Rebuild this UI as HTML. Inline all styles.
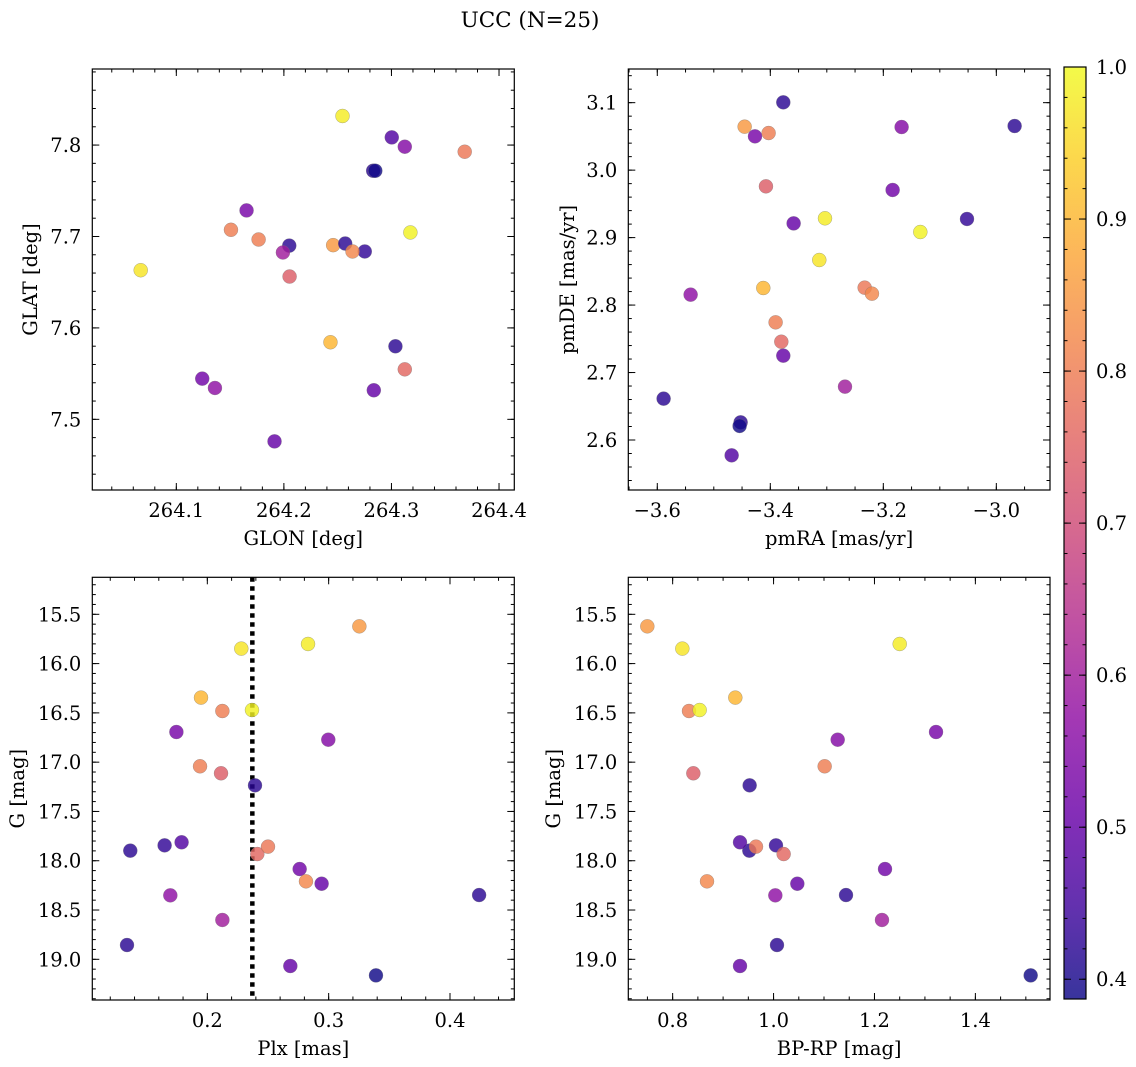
<!DOCTYPE html>
<html><head><meta charset="utf-8"><style>
html,body{margin:0;padding:0;background:#fff;}
svg{display:block;font-family:"DejaVu Serif","Liberation Serif",serif;}
</style></head><body>
<svg id="fig" width="1136" height="1067" viewBox="0 0 1136 1067" xmlns="http://www.w3.org/2000/svg">
<text x="530" y="27" font-size="21.5" text-anchor="middle">UCC (N=25)</text>
</svg>
<script>
// star data (25 members)
const glon = [264.2458,264.0669,264.2545,264.2433,264.1508,264.3176,264.1653,264.3124,264.1765,264.2053,264.205,264.257,264.2752,264.3003,264.3124,264.3681,264.1241,264.2638,264.2836,264.1359,264.3037,264.1991,264.283,264.1913,264.285];
const glat = [7.6905,7.6631,7.8318,7.5843,7.7073,7.7044,7.7285,7.7982,7.6967,7.6562,7.690,7.6923,7.6836,7.8084,7.5547,7.7927,7.5445,7.6836,7.5318,7.5343,7.5799,7.6825,7.7719,7.4759,7.7719];
const pmra = [-3.4454,-3.3133,-3.3032,-3.4124,-3.4030,-3.1345,-3.4271,-3.1676,-3.3906,-3.4077,-3.3770,-2.9676,-3.0519,-3.4684,-3.3805,-3.2330,-3.1835,-3.2201,-3.3770,-3.5410,-3.5888,-3.2678,-3.4525,-3.3587,-3.4543];
const pmde = [3.0644,2.8668,2.9286,2.8253,3.0550,2.9083,3.0501,3.0639,2.7744,2.9760,3.1005,3.0654,2.9276,2.5773,2.7457,2.8258,2.9706,2.8169,2.7250,2.8154,2.6613,2.6791,2.6262,2.9211,2.6208];
const plx = [0.3253,0.2280,0.2830,0.1948,0.2124,0.2368,0.1745,0.2997,0.1940,0.2113,0.2393,0.1365,0.1648,0.1788,0.2412,0.2500,0.2761,0.2813,0.2942,0.1695,0.4240,0.2124,0.1338,0.2684,0.3390];
const gmag = [15.622,15.848,15.801,16.345,16.481,16.471,16.694,16.772,17.042,17.113,17.235,17.898,17.844,17.813,17.932,17.857,18.084,18.209,18.233,18.351,18.348,18.601,18.855,19.068,19.163];
const bprp = [0.7498,0.8192,1.2500,0.9242,0.8324,0.8535,1.3220,1.1271,1.1013,0.8410,0.9526,0.9520,1.0048,0.9335,1.0200,0.9652,1.2209,0.8681,1.0471,1.0035,1.1436,1.2149,1.0068,0.9335,1.5096];
const prob = [0.85,0.97,0.98,0.90,0.80,0.99,0.53,0.55,0.80,0.74,0.42,0.42,0.43,0.47,0.76,0.79,0.52,0.82,0.50,0.57,0.42,0.60,0.42,0.50,0.39];
const plxMedian = [0.2371];
const cbTicks = [0.4,0.5,0.6,0.7,0.8,0.9,1.0];

const NS="http://www.w3.org/2000/svg";
const svg=document.getElementById('fig');
const FS=19.5;
function mk(tag,attrs,parent){const e=document.createElementNS(NS,tag);for(const k in attrs)e.setAttribute(k,attrs[k]);(parent||svg).appendChild(e);return e;}

const plasma=[[13,8,135],[65,4,157],[106,0,168],[143,13,164],[177,42,144],[204,71,120],[225,100,98],[242,132,75],[252,166,54],[252,206,37],[240,249,33]];
const vmin=0.387,vmax=1.0;
function cmap(v){let t=Math.max(0,Math.min(1,(v-vmin)/(vmax-vmin)))*10;const i=Math.min(9,Math.floor(t));const f=t-i;const a=plasma[i],b=plasma[i+1];return 'rgb('+a.map((c,k)=>Math.round(c+(b[k]-c)*f)).join(',')+')';}
function fmt(v,d){const s=Math.abs(v).toFixed(d);return (v<-1e-9?'\u2212':'')+s;}

function panel(cfg){
  const g=mk('g',{});
  
  
  const sx=v=>cfg.px0+(v-cfg.x0)/(cfg.x1-cfg.x0)*(cfg.px1-cfg.px0);
  const sy=v=>cfg.py0+(v-cfg.y0)/(cfg.y1-cfg.y0)*(cfg.py1-cfg.py0);
  const L=cfg.px0,R=cfg.px1,T=Math.min(cfg.py0,cfg.py1),B=Math.max(cfg.py0,cfg.py1);
  const tg=mk('g',{stroke:'#000','stroke-width':1},g);
  
  
  const lo=Math.min(cfg.x0,cfg.x1),hi=Math.max(cfg.x0,cfg.x1);
  for(let v=Math.ceil(lo/cfg.xmin-1e-6)*cfg.xmin;v<=hi+1e-9;v+=cfg.xmin){const x=sx(v);mk('line',{x1:x,x2:x,y1:B,y2:B-3.5},tg);mk('line',{x1:x,x2:x,y1:T,y2:T+3.5},tg);}
  const ylo=Math.min(cfg.y0,cfg.y1),yhi=Math.max(cfg.y0,cfg.y1);
  for(let v=Math.ceil(ylo/cfg.ymin-1e-6)*cfg.ymin;v<=yhi+1e-9;v+=cfg.ymin){const y=sy(v);mk('line',{x1:L,x2:L+3.5,y1:y,y2:y},tg);mk('line',{x1:R,x2:R-3.5,y1:y,y2:y},tg);}
  cfg.xt.forEach(v=>{const x=sx(v);mk('line',{x1:x,x2:x,y1:B,y2:B-7},tg);mk('line',{x1:x,x2:x,y1:T,y2:T+7},tg);
    const t=mk('text',{x:x,y:B+27,'font-size':FS,'text-anchor':'middle'},g);t.textContent=fmt(v,cfg.xd);
    });
  cfg.yt.forEach(v=>{const y=sy(v);mk('line',{x1:L,x2:L+7,y1:y,y2:y},tg);mk('line',{x1:R,x2:R-7,y1:y,y2:y},tg);
    const t=mk('text',{x:L-11,y:y+7,'font-size':FS,'text-anchor':'end'},g);t.textContent=fmt(v,cfg.yd);
    });
  if(cfg.vline){cfg.vline.forEach(v=>{const l=mk('line',{x1:sx(v),x2:sx(v),y1:T,y2:B,stroke:'#000','stroke-width':4.5,'stroke-dasharray':'4.5 4.5'},g);
    });}
  cfg.xs.forEach((xv,i)=>{const c=mk('circle',{cx:sx(xv),cy:sy(cfg.ys[i]),r:7,fill:cmap(prob[i]),'fill-opacity':0.82,stroke:'#777','stroke-opacity':0.6,'stroke-width':0.5},g);
    
    });
  const fr=mk('rect',{x:L,y:T,width:R-L,height:B-T,fill:'none',stroke:'#000','stroke-width':1.2},g);
  
  const xl=mk('text',{x:(L+R)/2,y:B+55,'font-size':FS,'text-anchor':'middle'},g);xl.textContent=cfg.xlabel;
  
  const yl=mk('text',{x:0,y:0,'font-size':FS,'text-anchor':'middle',transform:'translate('+cfg.ylx+','+((T+B)/2)+') rotate(-90)'},g);yl.textContent=cfg.ylabel;
  
}

panel({name:'glon-glat-panel',px0:92.3,px1:514.3,py0:490,py1:69,x0:264.0219,x1:264.4142,y0:7.4227,y1:7.8832,
  xt:[264.1,264.2,264.3,264.4],xd:1,xmin:0.02,yt:[7.5,7.6,7.7,7.8],yd:1,ymin:0.02,xs:glon,ys:glat,xlabel:'GLON [deg]',ylabel:'GLAT [deg]',ylx:37});
panel({name:'pm-panel',px0:628.3,px1:1050,py0:490,py1:69,x0:-3.6513,x1:-2.905,y0:2.5259,y1:3.1499,
  xt:[-3.6,-3.4,-3.2,-3.0],xd:1,xmin:0.05,yt:[2.6,2.7,2.8,2.9,3.0,3.1],yd:1,ymin:0.02,xs:pmra,ys:pmde,xlabel:'pmRA [mas/yr]',ylabel:'pmDE [mas/yr]',ylx:574});
panel({name:'plx-g-panel',px0:92.3,px1:514.3,py0:577.3,py1:1000,x0:0.1052,x1:0.4530,y0:15.1246,y1:19.4128,
  xt:[0.2,0.3,0.4],xd:1,xmin:0.02,yt:[15.5,16,16.5,17,17.5,18,18.5,19],yd:1,ymin:0.1,xs:plx,ys:gmag,xlabel:'Plx [mas]',ylabel:'G [mag]',ylx:24,vline:plxMedian});
panel({name:'cmd-panel',px0:628.3,px1:1050,py0:577.3,py1:1000,x0:0.7121,x1:1.5479,y0:15.1246,y1:19.4128,
  xt:[0.8,1.0,1.2,1.4],xd:1,xmin:0.05,yt:[15.5,16,16.5,17,17.5,18,18.5,19],yd:1,ymin:0.1,xs:bprp,ys:gmag,xlabel:'BP-RP [mag]',ylabel:'G [mag]',ylx:560});

(function(){
  const g=mk('g',{});
  
  
  const X=1064,W=22,T=67,B=999;
  const defs=mk('defs',{},g);
  const lg=mk('linearGradient',{id:'cbg',x1:0,y1:1,x2:0,y2:0},defs);
  plasma.forEach((c,i)=>mk('stop',{offset:(i/10),'stop-color':'rgb('+c.join(',')+')','stop-opacity':0.82},lg));
  mk('rect',{x:X,y:T,width:W,height:B-T,fill:'url(#cbg)',stroke:'#000','stroke-width':1.2},g);
  const sy=v=>B-(v-vmin)/(vmax-vmin)*(B-T);
  for(let v=0.40;v<=1.0001;v+=0.02){const y=sy(v);mk('line',{x1:X+W,x2:X+W-3.5,y1:y,y2:y,stroke:'#000'},g);mk('line',{x1:X,x2:X+3.5,y1:y,y2:y,stroke:'#000'},g);}
  cbTicks.forEach(v=>{const y=sy(v);mk('line',{x1:X+W,x2:X+W-7,y1:y,y2:y,stroke:'#000'},g);mk('line',{x1:X,x2:X+7,y1:y,y2:y,stroke:'#000'},g);
    const t=mk('text',{x:X+W+10,y:y+7,'font-size':FS},g);t.textContent=v.toFixed(1);
    });
})();
</script>
</body></html>
